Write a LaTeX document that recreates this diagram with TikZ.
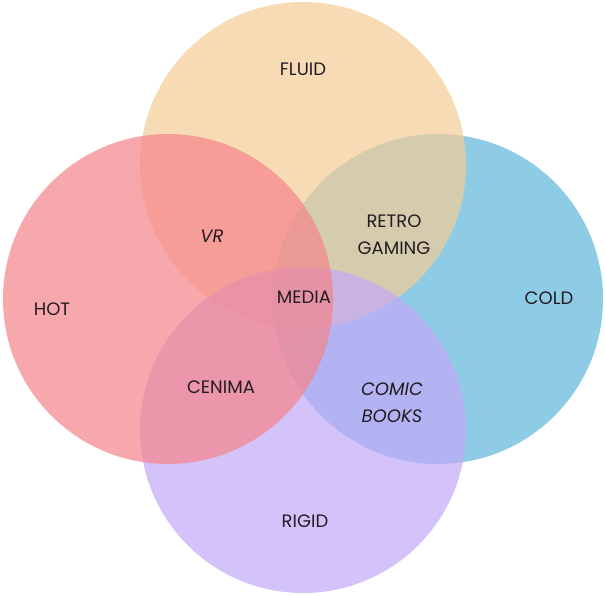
\documentclass[tikz,border=0pt]{standalone}
\usepackage{fontspec}
\setmainfont{Poppins}
\definecolor{cfluid}{HTML}{F4CC96}
\definecolor{chot}{HTML}{F5848A}
\definecolor{ccold}{HTML}{5FB5DA}
\definecolor{crigid}{HTML}{C3A9F9}
\definecolor{ctext}{HTML}{241C22}
\begin{document}
\begin{tikzpicture}[x=1pt,y=-1pt,
  setcircle/.style={draw=none,fill opacity=0.7},
  lbl/.style={text=ctext,font=\fontsize{18}{27}\selectfont,align=center,inner sep=0pt},
  ilbl/.style={lbl,font=\fontsize{18}{27}\selectfont\itshape}]
\useasboundingbox (0,0) rectangle (605,595);
\fill[white] (0,0) rectangle (605,595);
\fill[setcircle,fill=ccold]  (438,299) circle[radius=165];
\fill[setcircle,fill=cfluid] (303,165) circle[radius=163];
\fill[setcircle,fill=crigid] (303,430) circle[radius=163];
\fill[setcircle,fill=chot]   (168,299) circle[radius=165];
\node[lbl] (fluid) at (303,69) {FLUID};
\node[lbl] (hot) at (52,309) {HOT};
\node[lbl] (cold) at (549,298) {COLD};
\node[lbl] (rigid) at (305,521) {RIGID};
\node[ilbl] (vr) at (212,236) {VR};
\node[lbl] (retro) at (394,234.5) {RETRO\\GAMING};
\node[lbl] (media) at (304,297) {MEDIA};
\node[lbl] (cenima) at (221,387) {CENIMA};
\node[ilbl] (comic) at (392,402.5) {COMIC\\BOOKS};
\end{tikzpicture}
\end{document}
